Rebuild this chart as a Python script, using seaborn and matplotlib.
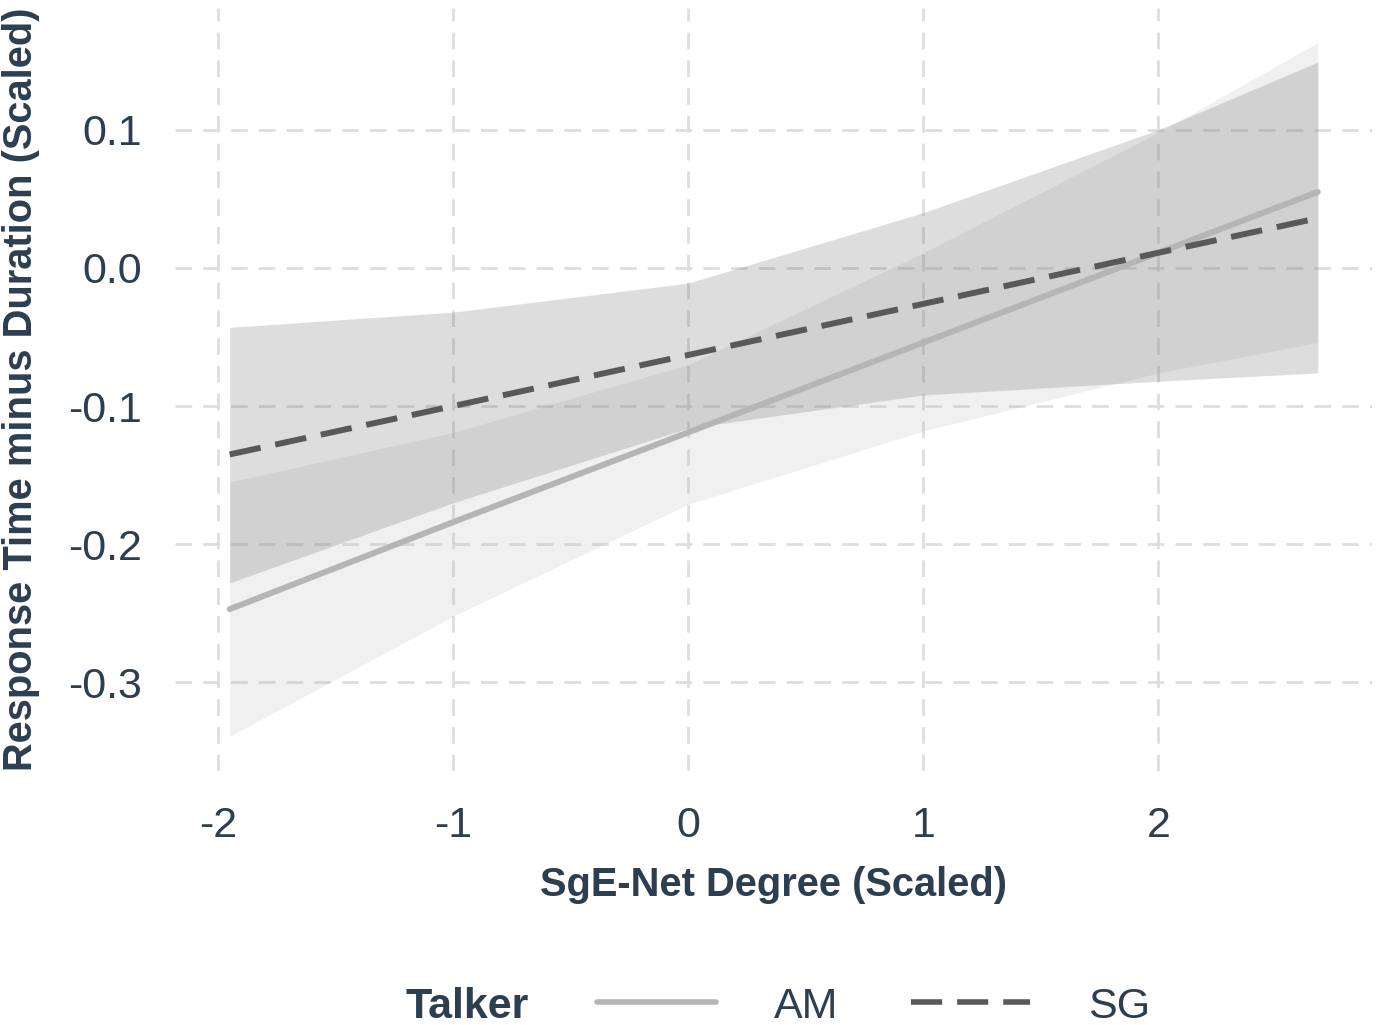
import pandas as pd
import numpy as np
import matplotlib.pyplot as plt
import seaborn as sns
from matplotlib.lines import Line2D

# Data (predicted fit and 95% CI band per talker)
x_vals = [-1.951, -1.0, 0.0, 1.0, 2.0, 2.678]
am_fit = [-0.247, -0.184, -0.119, -0.054, 0.011, 0.055]
am_lower = [-0.339, -0.252, -0.171, -0.118, -0.076, -0.054]
am_upper = [-0.155, -0.119, -0.070, 0.011, 0.098, 0.163]
sg_fit = [-0.135, -0.100, -0.063, -0.026, 0.011, 0.036]
sg_lower = [-0.228, -0.170, -0.116, -0.092, -0.082, -0.076]
sg_upper = [-0.043, -0.032, -0.011, 0.040, 0.100, 0.149]

talkers = ["AM", "SG"]
line_colors = {"AM": "#b5b5b5", "SG": "#595959"}
text_color = "#2c3e50"

df = pd.concat([
    pd.DataFrame({"x": x_vals, "fit": am_fit, "lo": am_lower, "hi": am_upper, "Talker": "AM"}),
    pd.DataFrame({"x": x_vals, "fit": sg_fit, "lo": sg_lower, "hi": sg_upper, "Talker": "SG"}),
])

sns.set_theme(style="white")
plt.rcParams["font.family"] = ["Liberation Sans", "DejaVu Sans"]

fig = plt.figure(figsize=(13.79, 10.25), dpi=100)
ax = fig.add_axes([0.127, 0.248, 0.868, 0.744])

# Confidence ribbons
for t in talkers:
    d = df[df["Talker"] == t]
    ax.fill_between(d["x"], d["lo"], d["hi"], color=line_colors[t], alpha=0.2, linewidth=0, zorder=2)

sns.lineplot(data=df, x="x", y="fit", hue="Talker", style="Talker",
             palette=line_colors, dashes={"AM": "", "SG": (5.3, 2.5)},
             linewidth=4.3, legend=False, ax=ax, zorder=3)

ax.set_xlim(-2.183, 2.909)
ax.set_ylim(-0.364, 0.188)
ax.set_xticks([-2, -1, 0, 1, 2])
ax.set_xticklabels(["-2", "-1", "0", "1", "2"])
ax.set_yticks([-0.3, -0.2, -0.1, 0.0, 0.1])
ax.set_yticklabels(["-0.3", "-0.2", "-0.1", "0.0", "0.1"])
ax.grid(True, color="#dedede", linestyle=(0, (6, 4)), linewidth=2, zorder=0)
ax.set_axisbelow(True)
for s in ax.spines.values():
    s.set_visible(False)
ax.tick_params(axis="both", length=0, labelsize=31, labelcolor=text_color)
ax.tick_params(axis="x", pad=25)
ax.tick_params(axis="y", pad=24)

ax.set_xlabel("SgE-Net Degree (Scaled)", fontsize=28.7, fontweight="bold", color=text_color, labelpad=15)
ax.set_ylabel("Response Time minus Duration (Scaled)", fontsize=28.7, fontweight="bold", color=text_color, labelpad=20)

# Legend at the bottom
handles = [
    Line2D([0], [0], color=line_colors["AM"], linewidth=4.0),
    Line2D([0], [0], color=line_colors["SG"], linewidth=4.0, dashes=(5.6, 2.7)),
]
fig.text(0.294, 0.018, "Talker", fontsize=31, fontweight="bold", color=text_color, va="center")
leg = fig.legend(handles, talkers, loc="center left", bbox_to_anchor=(0.405, 0.018), ncol=2, frameon=False,
                 fontsize=31, handlelength=2.75, handletextpad=1.35, columnspacing=1.7)
for txt in leg.get_texts():
    txt.set_color(text_color)

fig.savefig("out.png", dpi=100)
